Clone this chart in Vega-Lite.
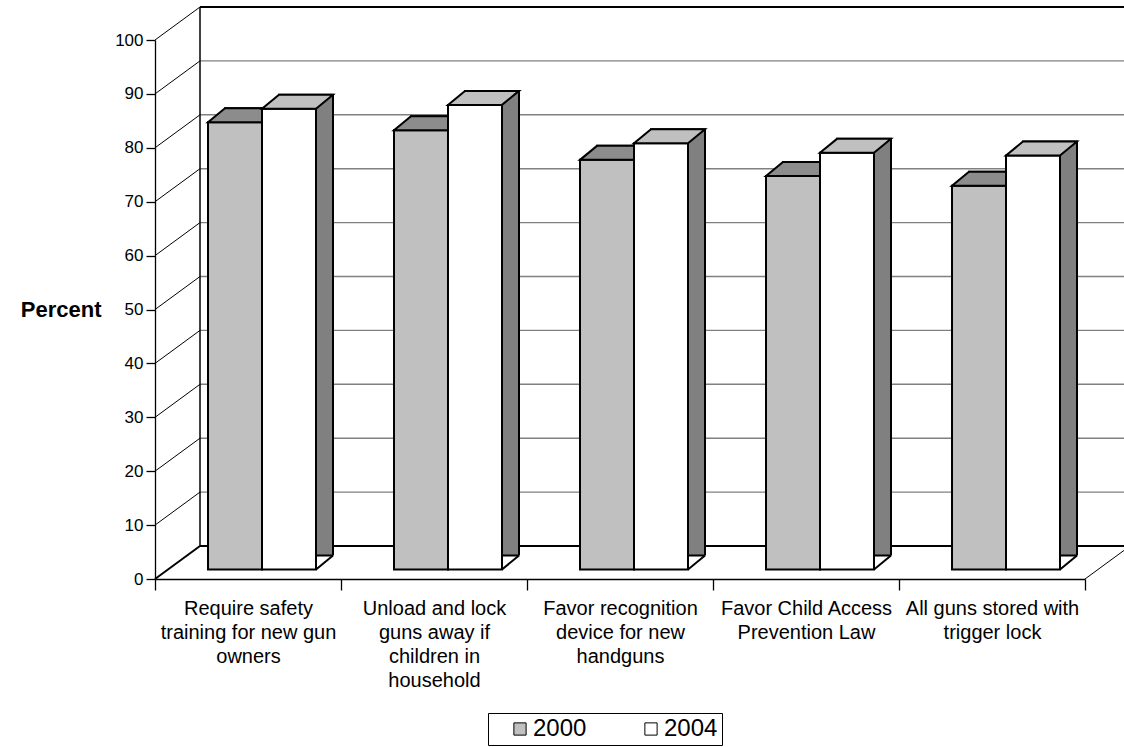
{
  "$schema": "https://vega.github.io/schema/vega-lite/v6.json",
  "width": 930,
  "height": 539,
  "autosize": "none",
  "padding": {"left": 155, "top": 40, "right": 39, "bottom": 168},
  "background": "white",
  "datasets": {
    "bars": [
      {"cat": "Require safety training for new gun owners", "year": "2000", "pct": 83},
      {"cat": "Require safety training for new gun owners", "year": "2004", "pct": 85.5},
      {"cat": "Unload and lock guns away if children in household", "year": "2000", "pct": 81.5},
      {"cat": "Unload and lock guns away if children in household", "year": "2004", "pct": 86.2},
      {"cat": "Favor recognition device for new handguns", "year": "2000", "pct": 76},
      {"cat": "Favor recognition device for new handguns", "year": "2004", "pct": 79.1},
      {"cat": "Favor Child Access Prevention Law", "year": "2000", "pct": 73},
      {"cat": "Favor Child Access Prevention Law", "year": "2004", "pct": 77.3},
      {"cat": "All guns stored with trigger lock", "year": "2000", "pct": 71.2},
      {"cat": "All guns stored with trigger lock", "year": "2004", "pct": 76.8}
    ],
    "grid": [
      {"g": 0}, {"g": 10}, {"g": 20}, {"g": 30}, {"g": 40}, {"g": 50},
      {"g": 60}, {"g": 70}, {"g": 80}, {"g": 90}, {"g": 100}
    ]
  },
  "layer": [
    {
      "data": {"name": "grid"},
      "mark": {"type": "rule", "xOffset": -48, "x2Offset": 160, "yOffset": -33},
      "encoding": {
        "x": {"datum": "Require safety training for new gun owners", "type": "nominal", "title": null,
              "scale": {"domain": ["Require safety training for new gun owners", "Unload and lock guns away if children in household", "Favor recognition device for new handguns", "Favor Child Access Prevention Law", "All guns stored with trigger lock"], "paddingInner": 0, "paddingOuter": 0}},
        "x2": {"datum": "All guns stored with trigger lock"},
        "y": {"field": "g", "type": "quantitative", "title": "Percent", "scale": {"domain": [0, 100], "nice": false}},
        "color": {"condition": {"test": "datum.g == 0 || datum.g == 100", "value": "black"}, "value": "#808080"},
        "strokeWidth": {"condition": {"test": "datum.g == 0 || datum.g == 100", "value": 2}, "value": 1.4}
      }
    },
    {
      "data": {"name": "grid"},
      "mark": {"type": "rule", "xOffset": -93, "x2Offset": -48, "y2Offset": -33, "color": "black"},
      "encoding": {
        "x": {"datum": "Require safety training for new gun owners", "type": "nominal", "title": null},
        "x2": {"datum": "Require safety training for new gun owners"},
        "y": {"field": "g", "type": "quantitative", "title": "Percent"},
        "y2": {"field": "g"},
        "strokeWidth": {"condition": {"test": "datum.g == 0", "value": 2}, "value": 1}
      }
    },
    {
      "data": {"name": "grid"},
      "transform": [{"filter": "datum.g == 0"}],
      "mark": {"type": "rule", "xOffset": -48, "yOffset": -33, "y2Offset": -33, "color": "black", "strokeWidth": 1.5},
      "encoding": {
        "x": {"datum": "Require safety training for new gun owners", "type": "nominal", "title": null},
        "y": {"field": "g", "type": "quantitative", "title": "Percent"},
        "y2": {"datum": 100}
      }
    },
    {
      "data": {"name": "grid"},
      "transform": [{"filter": "datum.g == 0"}],
      "mark": {"type": "rule", "xOffset": 93, "x2Offset": 138, "y2Offset": -33, "color": "black", "strokeWidth": 1},
      "encoding": {
        "x": {"datum": "All guns stored with trigger lock", "type": "nominal", "title": null},
        "x2": {"datum": "All guns stored with trigger lock"},
        "y": {"field": "g", "type": "quantitative", "title": "Percent"},
        "y2": {"field": "g"}
      }
    },
    {
      "data": {"name": "bars"},
      "transform": [{"filter": "datum.year == '2000'"}],
      "mark": {"type": "bar", "width": 54, "xOffset": 4, "yOffset": -23.5, "y2Offset": -9.5, "fill": "#808080", "stroke": "black", "strokeWidth": 2},
      "encoding": {
        "x": {"field": "cat", "type": "nominal", "sort": null, "title": null},
        "y": {"field": "pct", "type": "quantitative", "title": "Percent"}
      }
    },
    {
      "data": {"name": "bars"},
      "transform": [{"filter": "datum.year == '2000'"}],
      "mark": {"type": "bar", "width": 54, "xOffset": -13, "yOffset": -9.5, "y2Offset": -9.5, "stroke": "black", "strokeWidth": 2},
      "encoding": {
        "x": {"field": "cat", "type": "nominal", "sort": null, "title": null},
        "y": {"field": "pct", "type": "quantitative", "title": "Percent"},
        "fill": {"field": "year", "type": "nominal", "scale": {"domain": ["2000", "2004"], "range": ["#c0c0c0", "#ffffff"]},
                 "legend": {"orient": "none", "legendX": 333, "legendY": 673, "direction": "horizontal", "title": null,
                            "strokeColor": "black", "padding": 4, "symbolType": "square", "symbolSize": 150,
                            "symbolStrokeColor": "black", "symbolStrokeWidth": 1, "labelFontSize": 24,
                            "labelFont": "Liberation Sans", "labelColor": "black", "columnPadding": 36,
                            "symbolOffset": 16, "labelOffset": 1,
                            "labelExpr": "datum.label == '2004' ? datum.label + '    ' : datum.label"}}
      }
    },
    {
      "data": {"name": "bars"},
      "transform": [{"filter": "datum.year == '2000'"}],
      "mark": {"type": "point", "shape": "M-1,0L1,0L1.6296,-0.5185L-0.3704,-0.5185Z", "size": 2916, "filled": true, "fill": "#8c8c8c", "stroke": "black", "strokeWidth": 2, "opacity": 1, "xOffset": -13, "yOffset": -9.5},
      "encoding": {
        "x": {"field": "cat", "type": "nominal", "sort": null, "title": null},
        "y": {"field": "pct", "type": "quantitative", "title": "Percent"}
      }
    },
    {
      "data": {"name": "bars"},
      "transform": [{"filter": "datum.year == '2004'"}],
      "mark": {"type": "bar", "width": 54, "xOffset": 58, "yOffset": -23.5, "y2Offset": -9.5, "fill": "#808080", "stroke": "black", "strokeWidth": 2},
      "encoding": {
        "x": {"field": "cat", "type": "nominal", "sort": null, "title": null},
        "y": {"field": "pct", "type": "quantitative", "title": "Percent"}
      }
    },
    {
      "data": {"name": "bars"},
      "transform": [{"filter": "datum.year == '2004'"}],
      "mark": {"type": "point", "shape": "M1,0L1.6296,-0.5185L1.7407,-0.5185L1.7407,0.1111L1,0.1111Z", "size": 2916, "filled": true, "fill": "white", "strokeWidth": 0, "opacity": 1, "xOffset": 41, "yOffset": -9.5},
      "encoding": {
        "x": {"field": "cat", "type": "nominal", "sort": null, "title": null},
        "y": {"datum": 0, "type": "quantitative", "title": "Percent"}
      }
    },
    {
      "data": {"name": "bars"},
      "transform": [{"filter": "datum.year == '2004'"}],
      "mark": {"type": "bar", "width": 54, "xOffset": 41, "yOffset": -9.5, "y2Offset": -9.5, "stroke": "black", "strokeWidth": 2},
      "encoding": {
        "x": {"field": "cat", "type": "nominal", "sort": null, "title": null},
        "y": {"field": "pct", "type": "quantitative", "title": "Percent"},
        "fill": {"field": "year", "type": "nominal"}
      }
    },
    {
      "data": {"name": "bars"},
      "transform": [{"filter": "datum.year == '2004'"}],
      "mark": {"type": "point", "shape": "M-1,0L1,0L1.6296,-0.5185L-0.3704,-0.5185Z", "size": 2916, "filled": true, "fill": "#c0c0c0", "stroke": "black", "strokeWidth": 2, "opacity": 1, "xOffset": 41, "yOffset": -9.5},
      "encoding": {
        "x": {"field": "cat", "type": "nominal", "sort": null, "title": null},
        "y": {"field": "pct", "type": "quantitative", "title": "Percent"}
      }
    },
    {
      "data": {"name": "bars"},
      "transform": [{"filter": "datum.year == '2004'"}],
      "mark": {"type": "point", "shape": "M1,0L1.6296,-0.5185", "size": 2916, "filled": false, "stroke": "black", "strokeWidth": 2, "opacity": 1, "xOffset": 41, "yOffset": -9.5},
      "encoding": {
        "x": {"field": "cat", "type": "nominal", "sort": null, "title": null},
        "y": {"datum": 0, "type": "quantitative", "title": "Percent"}
      }
    }
  ],
  "config": {
    "view": {"stroke": null},
    "axis": {"labelFont": "Liberation Sans", "titleFont": "Liberation Sans", "labelColor": "black", "titleColor": "black",
             "domainColor": "black", "tickColor": "black", "grid": false},
    "axisX": {"labelFontSize": 20, "labelAngle": 0, "tickBand": "extent", "tickSize": 11, "domainWidth": 1.3, "tickWidth": 1.3,
              "labelPadding": 8, "labelLineHeight": 24, "labelOverlap": false, "labelLimit": 300,
              "labelExpr": "datum.label == 'Require safety training for new gun owners' ? ['Require safety','training for new gun','owners'] : datum.label == 'Unload and lock guns away if children in household' ? ['Unload and lock','guns away if','children in','household'] : datum.label == 'Favor recognition device for new handguns' ? ['Favor recognition','device for new','handguns'] : datum.label == 'Favor Child Access Prevention Law' ? ['Favor Child Access','Prevention Law'] : datum.label == 'All guns stored with trigger lock' ? ['All guns stored with','trigger lock'] : ''"},
    "axisY": {"labelFontSize": 17, "tickSize": 9, "labelPadding": 3, "domainWidth": 1.3, "tickWidth": 1.3, "tickCount": 10,
              "titleAngle": 0, "titleAlign": "right", "titleBaseline": "middle", "titleX": -54, "titleY": 269.5,
              "titleFontSize": 22, "titleFontWeight": "bold"}
  }
}
